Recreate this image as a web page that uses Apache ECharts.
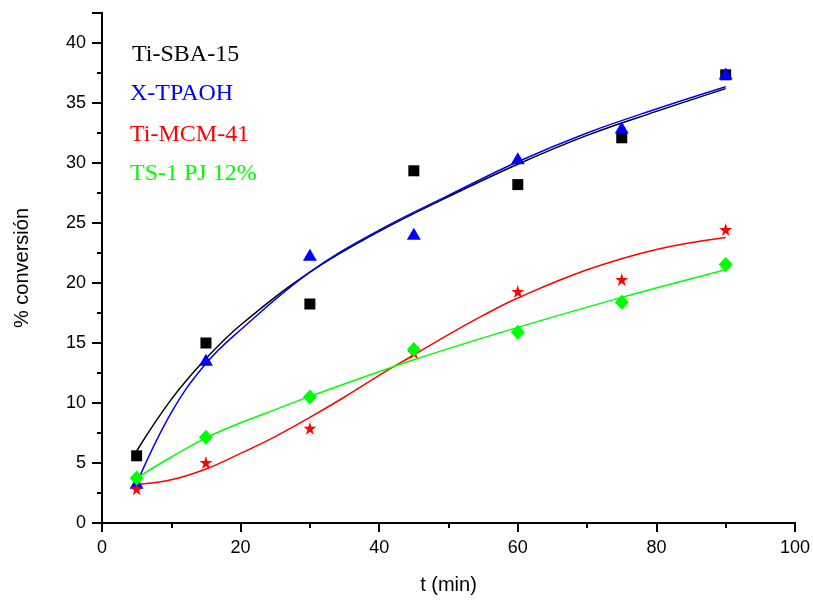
<!DOCTYPE html>
<html>
<head>
<meta charset="utf-8">
<script src="https://cdn.jsdelivr.net/npm/echarts@6/dist/echarts.min.js"></script>
<style>
  html, body { margin: 0; padding: 0; background: #fff; }
  #chart { width: 813px; height: 600px; }
</style>
</head>
<body>
<div id="chart"></div>
<script>
// measured points
var tPoints = [5, 15, 30, 45, 60, 75, 90];
var sbaValues = [5.6, 15.0, 18.25, 29.35, 28.2, 32.1, 37.35];
var tpaohValues = [3.35, 13.6, 22.35, 24.1, 30.4, 32.95, 37.45];
var mcmValues = [2.85, 5.05, 7.9, 14.2, 19.3, 20.3, 24.45];
var ts1Values = [3.75, 7.15, 10.5, 14.45, 15.9, 18.4, 21.55];

// fitted curves
var sbaFitT = [5, 10, 15, 20, 30, 40, 50, 60, 70, 80, 90];
var sbaFit = [6.0, 10.3, 13.7, 16.5, 20.9, 24.3, 27.2, 29.9, 32.3, 34.3, 36.2];
var tpaohFitT = [5, 10, 15, 20, 30, 40, 50, 60, 70, 80, 90];
var tpaohFit = [3.3, 9.2, 13.3, 16.1, 20.9, 24.4, 27.3, 30.1, 32.5, 34.5, 36.35];
var mcmFitT = [5, 10, 15, 20, 25, 30, 35, 40, 45, 50, 55, 60, 70, 80, 90];
var mcmFit = [3.2, 3.6, 4.5, 5.8, 7.2, 8.8, 10.5, 12.3, 14.0, 15.7, 17.3, 18.75, 21.1, 22.8, 23.8];
var ts1FitT = [5, 10, 15, 20, 25, 30, 45, 60, 75, 90];
var ts1Fit = [3.75, 5.5, 7.1, 8.35, 9.45, 10.55, 13.6, 16.3, 18.8, 21.1];

var seriesNames = ['Ti-SBA-15', 'X-TPAOH', 'Ti-MCM-41', 'TS-1 PJ 12%'];
var colors = ['#000000', '#0000ff', '#ff0000', '#00ff00'];

var starPath = 'path://M50,0 L61,35 L98,35 L68,57 L79,91 L50,70 L21,91 L32,57 L2,35 L39,35 Z';

function pairs(xs, ys) {
  return xs.map(function (x, i) { return [x, ys[i]]; });
}

var chart = echarts.init(document.getElementById('chart'));

var axisFont = { fontFamily: 'Liberation Sans', fontSize: 18, color: '#000' };

var option = {
  animation: false,
  grid: { left: 102, right: 17, top: 13, bottom: 76 },
  xAxis: [
    {
      type: 'value', min: 0, max: 100, interval: 20,
      name: 't (min)', nameLocation: 'middle', nameGap: 52,
      nameTextStyle: { fontFamily: 'Liberation Sans', fontSize: 20, color: '#000' },
      axisLine: { lineStyle: { color: '#000', width: 2 } },
      axisTick: { length: 9, lineStyle: { color: '#000', width: 2 } },
      minorTick: { show: true, splitNumber: 2, length: 5, lineStyle: { color: '#000', width: 2 } },
      axisLabel: Object.assign({ margin: 16 }, axisFont),
      splitLine: { show: false }
    },
    {
      type: 'value', min: 0, max: 100, interval: 20, position: 'top',
      axisLine: { lineStyle: { color: '#000', width: 2 } },
      axisTick: { inside: true, length: 5, lineStyle: { color: '#000', width: 2 } },
      minorTick: { show: true, splitNumber: 2, length: 5, lineStyle: { color: '#000', width: 2 } },
      axisLabel: { show: false },
      splitLine: { show: false }
    }
  ],
  yAxis: [
    {
      type: 'value', min: 0, max: 42.5, interval: 5,
      name: '% conversión', nameLocation: 'middle', nameGap: 70,
      nameTextStyle: { fontFamily: 'Liberation Sans', fontSize: 20, color: '#000' },
      axisLine: { show: true, lineStyle: { color: '#000', width: 2 } },
      axisTick: { show: true, length: 10, lineStyle: { color: '#000', width: 2 } },
      minorTick: { show: true, splitNumber: 2, length: 5, lineStyle: { color: '#000', width: 2 } },
      axisLabel: Object.assign({
        margin: 16,
        formatter: function (v) { return v > 40 ? '' : String(v); }
      }, axisFont),
      splitLine: { show: false }
    },
    {
      type: 'value', min: 0, max: 42.5, interval: 5, position: 'right',
      axisLine: { show: true, lineStyle: { color: '#000', width: 2 } },
      axisTick: { show: true, inside: true, length: 5, lineStyle: { color: '#000', width: 2 } },
      minorTick: { show: true, splitNumber: 2, length: 5, lineStyle: { color: '#000', width: 2 } },
      axisLabel: { show: false },
      splitLine: { show: false }
    }
  ],
  graphic: seriesNames.map(function (name, i) {
    var xs = [132, 130, 130, 130];
    var ys = [57, 96, 137, 175.5];
    return {
      type: 'text', left: xs[i], top: ys[i] - 14,
      style: {
        text: name, fill: colors[i],
        font: '24px "Liberation Serif"'
      },
      z: 100
    };
  }),
  series: [
    { name: 'sbaFit', type: 'line', smooth: 0.4, symbol: 'none', data: pairs(sbaFitT, sbaFit),
      lineStyle: { color: colors[0], width: 1.5 }, z: 2 },
    { name: 'tpaohFit', type: 'line', smooth: 0.4, symbol: 'none', data: pairs(tpaohFitT, tpaohFit),
      lineStyle: { color: colors[1], width: 1.5 }, z: 2 },
    { name: 'mcmFit', type: 'line', smooth: 0.4, symbol: 'none', data: pairs(mcmFitT, mcmFit),
      lineStyle: { color: colors[2], width: 1.5 }, z: 2 },
    { name: 'ts1Fit', type: 'line', smooth: 0.3, symbol: 'none', data: pairs(ts1FitT, ts1Fit),
      lineStyle: { color: colors[3], width: 1.5 }, z: 2 },
    { name: seriesNames[0], type: 'scatter', symbol: 'rect', symbolSize: 11,
      data: pairs(tPoints, sbaValues), itemStyle: { color: colors[0], opacity: 1 }, z: 5 },
    { name: seriesNames[1], type: 'scatter', symbol: 'triangle', symbolSize: [14, 12],
      data: pairs(tPoints, tpaohValues), itemStyle: { color: colors[1], opacity: 1 }, z: 5 },
    { name: seriesNames[2], type: 'scatter', symbol: starPath, symbolSize: 13,
      data: pairs(tPoints, mcmValues), itemStyle: { color: colors[2], opacity: 1 }, z: 5 },
    { name: seriesNames[3], type: 'scatter', symbol: 'diamond', symbolSize: [14, 15],
      data: pairs(tPoints, ts1Values), itemStyle: { color: colors[3], opacity: 1 }, z: 5 }
  ]
};

chart.setOption(option);
</script>
</body>
</html>
